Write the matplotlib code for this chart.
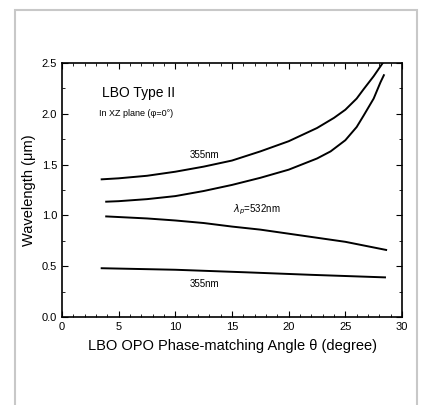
import matplotlib.pyplot as plt
from matplotlib.patches import Rectangle
from matplotlib.ticker import MultipleLocator

plt.rcParams["font.family"] = ["Liberation Sans", "DejaVu Sans"]

# 355 nm pump, idler/signal branches
angle_355_upper = [3.5, 5, 7.5, 10, 12.5, 15, 17.5, 20, 22.5, 24, 25, 26, 26.6, 27.5, 28.3]
wl_355_upper = [1.355, 1.365, 1.39, 1.43, 1.48, 1.54, 1.63, 1.73, 1.86, 1.96, 2.04, 2.15, 2.24, 2.37, 2.50]
angle_355_lower = [3.5, 10, 16.2, 22, 28.5]
wl_355_lower = [0.48, 0.465, 0.44, 0.415, 0.39]

# 532 nm pump branches
angle_532_upper = [3.9, 5, 7.5, 10, 12.5, 15, 17.5, 20, 22.5, 23.7, 25, 26, 26.6, 27.5, 28.1, 28.4]
wl_532_upper = [1.135, 1.14, 1.16, 1.19, 1.24, 1.30, 1.37, 1.45, 1.56, 1.63, 1.74, 1.87, 1.98, 2.15, 2.31, 2.38]
angle_532_lower = [3.9, 7.5, 10, 12.5, 15, 17.5, 20, 22.5, 25, 28.6]
wl_532_lower = [0.99, 0.97, 0.95, 0.925, 0.89, 0.86, 0.82, 0.78, 0.74, 0.66]

x_ticks = [0, 5, 10, 15, 20, 25, 30]
y_ticks = [0.0, 0.5, 1.0, 1.5, 2.0, 2.5]

fig = plt.figure(figsize=(4.22, 4.05), dpi=100)
fig.patches.append(Rectangle((15 / 422, -0.2), 402 / 422, 1.2 - 10 / 405,
                             transform=fig.transFigure, fill=False,
                             edgecolor="#c8c8c8", linewidth=1.5))

ax = fig.add_axes([62 / 422, 1 - 317 / 405, 340 / 422, 254 / 405])

for xs, ys in [(angle_355_upper, wl_355_upper), (angle_355_lower, wl_355_lower),
               (angle_532_upper, wl_532_upper), (angle_532_lower, wl_532_lower)]:
    ax.plot(xs, ys, color="black", linewidth=1.4)

ax.set_xlim(0, 30)
ax.set_ylim(0, 2.5)
ax.set_xticks(x_ticks)
ax.set_yticks(y_ticks)
ax.set_yticklabels([f"{v:.1f}" for v in y_ticks])
ax.xaxis.set_minor_locator(MultipleLocator(1))
ax.yaxis.set_minor_locator(MultipleLocator(0.25))
ax.tick_params(which="both", direction="in", top=True, right=True, labelsize=8)
ax.tick_params(which="major", length=4)
ax.tick_params(which="minor", length=2)
for s in ax.spines.values():
    s.set_linewidth(1.2)

ax.text(3.5, 2.2, "LBO Type II", fontsize=10, va="center")
ax.text(3.3, 2.0, "In XZ plane (\u03c6=0\u00b0)", fontsize=6.5, va="center")
ax.text(12.6, 1.59, "355nm", fontsize=7, ha="center", va="center")
ax.text(17.2, 1.06, "$\\lambda_p$=532nm", fontsize=7, ha="center", va="center")
ax.text(12.6, 0.32, "355nm", fontsize=7, ha="center", va="center")

ax.set_xlabel("LBO OPO Phase-matching Angle \u03b8 (degree)", fontsize=10.5, labelpad=5)
ax.set_ylabel("Wavelength (\u03bcm)", fontsize=10.5, labelpad=4)

fig.savefig("out.png", dpi=100)
